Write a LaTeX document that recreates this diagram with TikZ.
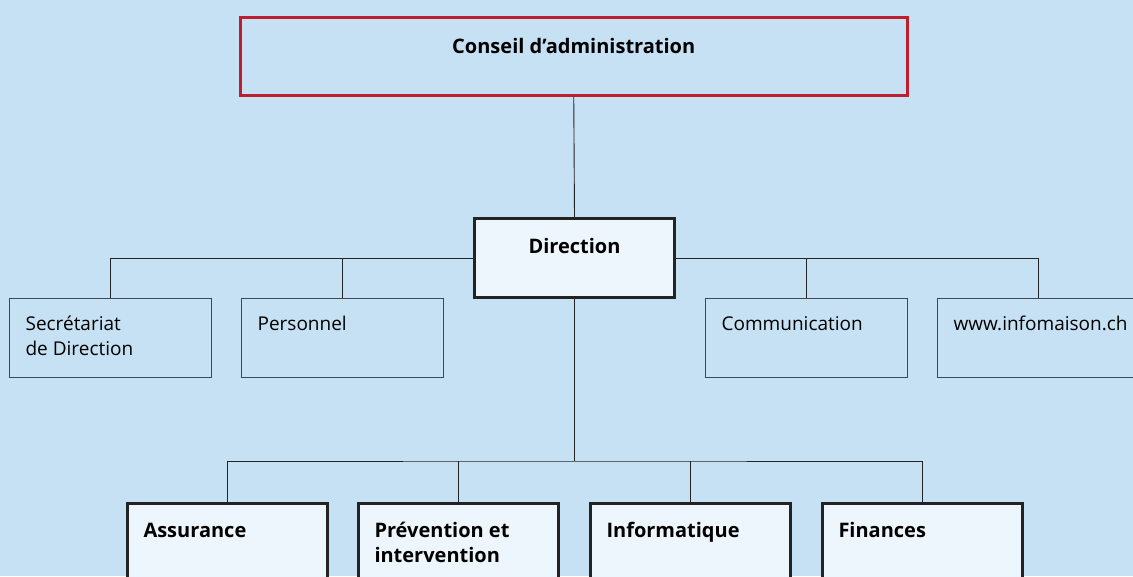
\documentclass[tikz,border=0pt]{standalone}
\usepackage{xcolor}
\usepackage{fontspec}
\setmainfont{Open Sans}
\usepackage{tikz}
\usetikzlibrary{positioning}
\definecolor{paleblue}{RGB}{197, 225, 243}
\definecolor{boxwhite}{RGB}{238, 246, 253}
\definecolor{boardred}{RGB}{190, 30, 45}
\definecolor{linedark}{RGB}{35, 35, 35}
\definecolor{linegray}{RGB}{62, 72, 82}

\tikzset{
    boardbox/.style={draw=boardred, line width=2.5pt, inner sep=0pt, minimum width=667pt,
        text height=36pt, text depth=42pt, font=\fontsize{20}{26}\selectfont\bfseries},
    headbox/.style={draw=linedark, fill=boxwhite, line width=3pt, inner sep=0pt, minimum width=200pt,
        text height=35pt, text depth=44pt, font=\fontsize{20}{26}\selectfont\bfseries},
    staffbox/.style={draw=linegray, line width=1.2pt, inner xsep=16pt, inner ysep=0pt,
        text height=32pt, text depth=47pt, font=\fontsize{19}{25}\selectfont},
    deptbox/.style={draw=linedark, fill=boxwhite, line width=3pt, inner xsep=16pt, inner ysep=0pt,
        text height=34pt, text depth=66pt, font=\fontsize{20}{25}\selectfont\bfseries},
    link/.style={draw=linedark, line width=0.9pt}
}

\begin{document}
\begin{tikzpicture}[x=1pt, y=-1pt]
    \useasboundingbox (0,0) rectangle (1133,576);
    \fill[paleblue] (0,0) rectangle (1133,576);
    \clip (0,0) rectangle (1133,576);

    % board and direction
    \node[boardbox, anchor=north west] (board) at (239,16) {Conseil d’administration};
    \node[headbox, anchor=north west] (dir) at (473,217) {Direction};

    % staff units
    \node[staffbox, anchor=north west] (secr) at (9,298) {\parbox[t]{170pt}{Secrétariat\\de Direction}};
    \node[staffbox, anchor=north west] (pers) at (241,298) {\parbox[t]{170pt}{Personnel}};
    \node[staffbox, anchor=north west] (comm) at (705,298) {\parbox[t]{170pt}{Communication}};
    \node[staffbox, anchor=north west] (www) at (937,298) {\parbox[t]{170pt}{www.infomaison.ch}};

    % departments
    \node[deptbox, anchor=north west] (assur) at (126,502) {\parbox[t]{168pt}{Assurance}};
    \node[deptbox, anchor=north west] (prev) at (357,502) {\parbox[t]{168pt}{Prévention et\\intervention}};
    \node[deptbox, anchor=north west] (info) at (589,502) {\parbox[t]{168pt}{Informatique}};
    \node[deptbox, anchor=north west] (fin) at (821,502) {\parbox[t]{168pt}{Finances}};

    \coordinate (bus) at (dir.south |- 0,461);

    % connectors
    \draw[link] (board.south) -- (dir.north);
    \draw[link] (dir.west) -| (secr.north);
    \draw[link] (pers.north) -- (pers.north |- dir.west);
    \draw[link] (dir.east) -| (www.north);
    \draw[link] (comm.north) -- (comm.north |- dir.east);
    \draw[link] (dir.south) -- (bus);
    \draw[link] (assur.north) |- (bus) -| (fin.north);
    \draw[link] (prev.north) -- (prev.north |- bus);
    \draw[link] (info.north) -- (info.north |- bus);
\end{tikzpicture}
\end{document}
